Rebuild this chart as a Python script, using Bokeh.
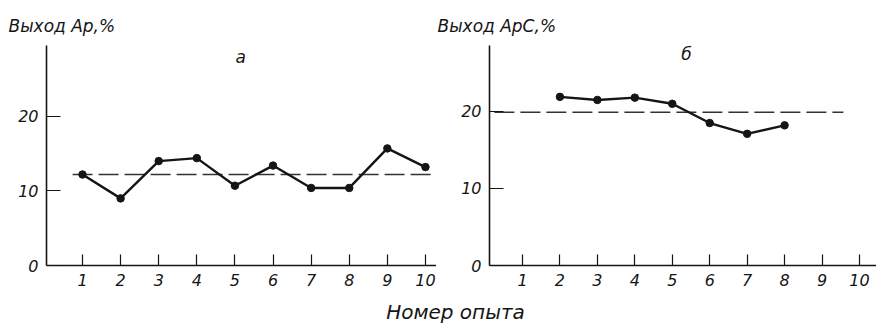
from bokeh.plotting import figure
from bokeh.models import Label, FixedTicker, Range1d
from bokeh.layouts import row, column
from bokeh.embed import file_html
from bokeh.resources import INLINE

# ---- data ----
runs_a = [1, 2, 3, 4, 5, 6, 7, 8, 9, 10]
yield_a = [12.2, 9.0, 14.0, 14.4, 10.7, 13.4, 10.4, 10.4, 15.7, 13.2]
mean_a = 12.2
runs_b = [2, 3, 4, 5, 6, 7, 8]
yield_b = [21.9, 21.5, 21.8, 21.0, 18.5, 17.1, 18.2]
mean_b = 19.9
x_ticks = [1, 2, 3, 4, 5, 6, 7, 8, 9, 10]
y_ticks = [0, 10, 20]
ylabel_a = "Выход Ар,%"
ylabel_b = "Выход АрС,%"
title_a = "а"
title_b = "б"
xlabel = "Номер опыта"

FONT = "DejaVu Sans"
INK = "#151515"


def text_strip(width, height, items):
    f = figure(width=width, height=height, x_range=Range1d(0, width), y_range=Range1d(0, height),
               toolbar_location=None, output_backend="svg", x_axis_type=None, y_axis_type=None,
               min_border=0)
    f.outline_line_color = None
    f.grid.grid_line_color = None
    for (x, y, txt, size, align) in items:
        f.add_layout(Label(x=x, y=y, text=txt, text_font=FONT, text_font_style="italic",
                           text_font_size=size, text_color=INK, text_baseline="middle",
                           text_align=align))
    return f


def panel(width, border_left, border_top, xr, yr, xs, ys, mean, mx0, mx1, ttl, ttl_x, ttl_y):
    p = figure(width=width, height=255, x_range=Range1d(*xr), y_range=Range1d(*yr),
               toolbar_location=None, output_backend="svg",
               min_border_left=border_left, min_border_right=0,
               min_border_top=border_top, min_border_bottom=30)
    p.outline_line_color = None
    p.grid.grid_line_color = None
    p.background_fill_color = "white"
    p.border_fill_color = "white"
    for ax in (p.xaxis, p.yaxis):
        ax.axis_line_color = INK
        ax.axis_line_width = 1.6
        ax.major_tick_line_color = INK
        ax.major_tick_line_width = 1.2
        ax.major_tick_out = 0
        ax.minor_tick_line_color = None
        ax.major_label_text_font = FONT
        ax.major_label_text_font_style = "italic"
        ax.major_label_text_font_size = "16px"
        ax.major_label_text_color = INK
    p.xaxis.ticker = FixedTicker(ticks=x_ticks)
    p.yaxis.ticker = FixedTicker(ticks=y_ticks)
    p.xaxis.major_tick_in = 11
    p.yaxis.major_tick_in = 14
    p.xaxis.major_label_standoff = 8
    p.yaxis.major_label_standoff = 8

    p.segment(x0=[mx0], y0=[mean], x1=[mx1], y1=[mean], line_color="#333333",
              line_width=1.3, line_dash="20 6")
    p.line(xs, ys, line_color=INK, line_width=2.4)
    p.scatter(xs, ys, size=7.5, fill_color=INK, line_color=INK)

    p.add_layout(Label(x=ttl_x, y=ttl_y, text=ttl, text_font=FONT, text_font_style="italic",
                       text_font_size="17px", text_color=INK, text_baseline="middle",
                       text_align="center"))
    return p


top = text_strip(876, 40, [(8, 15, ylabel_a, "17px", "left"),
                           (437, 15, ylabel_b, "17px", "left")])
f1 = panel(436, 46, 2, (0.055, 10.29), (0, 29.5), runs_a, yield_a, mean_a, 0.74, 10.29,
           title_a, 5.15, 27.9)
f2 = panel(440, 53, 5, (0.119, 10.454), (0, 28.57), runs_b, yield_b, mean_b, 0.25, 9.57,
           title_b, 5.38, 27.5)
bottom = text_strip(876, 28, [(455, 12, xlabel, "20px", "center")])

layout = column(top, row(f1, f2), bottom)
open("out.html", "w").write(file_html(layout, INLINE))
